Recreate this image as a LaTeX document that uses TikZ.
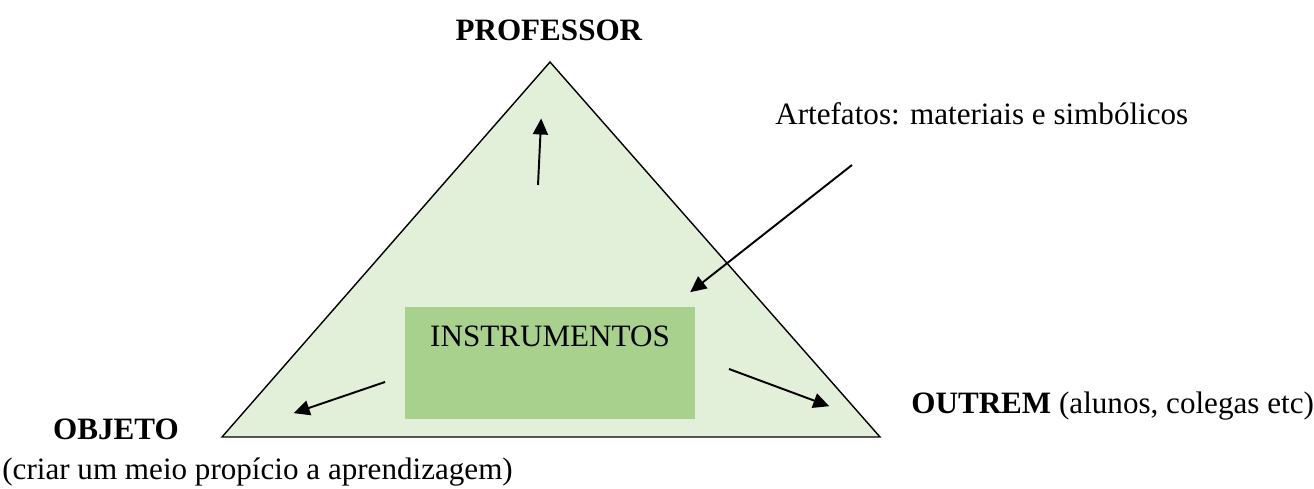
\documentclass[tikz,border=0pt]{standalone}
\usepackage{fontspec}
\setmainfont{Liberation Serif}
\usepackage{xcolor}
\usetikzlibrary{arrows.meta}
\definecolor{verdeclaro}{HTML}{E2EFD9}
\definecolor{verdecaixa}{HTML}{A9D18E}
\tikzset{
  rotulo/.style={font=\fontsize{17.7}{21}\selectfont, inner sep=0pt, anchor=base},
  seta/.style={black, line width=1.1pt, -{Triangle[length=0.32cm,width=0.3cm]}, shorten >=-2pt}
}

\begin{document}
\begin{tikzpicture}
            \useasboundingbox (0,0) rectangle (26.28,9.76);
            % triangulo
            \coordinate (topo) at (11.00,8.52);
            \coordinate (esq) at (4.44,1.02);
            \coordinate (dir) at (17.60,1.02);
            \draw[black, line width=0.8pt, fill=verdeclaro] (esq) -- (topo) -- (dir) -- cycle;
            % caixa
            \node[fill=verdecaixa, minimum width=5.8cm, minimum height=2.24cm, inner sep=0pt] (instr) at (11.00,2.50) {};
            \node[rotulo] (instrtxt) at (11.00,2.82) {INSTRUMENTOS};
            % textos
            \node[rotulo] (prof) at (10.98,8.94) {\textbf{PROFESSOR}};
            \node[rotulo] (obj) at (2.32,0.96) {\textbf{OBJETO}};
            \node[rotulo, anchor=base west] (meio) at (0.04,0.16) {(criar um meio propício a aprendizagem)};
            \node[rotulo, anchor=base west] (outrem) at (18.22,1.48) {\textbf{OUTREM} (alunos, colegas etc)};
            \node[rotulo, anchor=base west] (artef) at (15.50,7.26) {Artefatos: materiais e simbólicos};
            % setas
            \coordinate (a1) at (10.76,6.06);
            \coordinate (b1) at (10.82,7.32);
            \coordinate (a2) at (7.70,2.12);
            \coordinate (b2) at (5.94,1.52);
            \coordinate (a3) at (14.58,2.38);
            \coordinate (b3) at (16.52,1.66);
            \coordinate (a4) at (17.04,6.46);
            \coordinate (b4) at (13.86,3.96);
            \draw[seta] (a1) -- (b1);
            \draw[seta] (a2) -- (b2);
            \draw[seta] (a3) -- (b3);
            \draw[seta] (a4) -- (b4);
        \end{tikzpicture}
\end{document}
